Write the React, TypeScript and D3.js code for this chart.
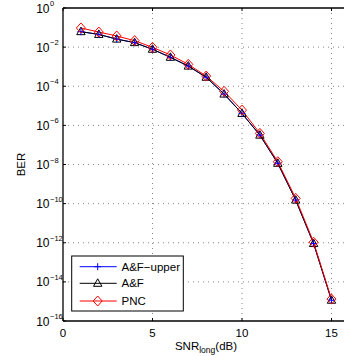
import React from "react";
import * as d3 from "d3";

const snr = [1, 2, 3, 4, 5, 6, 7, 8, 9, 10, 11, 12, 13, 14, 15];
const berAFUpperLog = [-1.21, -1.35, -1.59, -1.77, -2.11, -2.52, -2.97, -3.54, -4.4, -5.39, -6.5, -7.94, -9.82, -12.04, -14.94];
const berAFLog = [-1.21, -1.35, -1.59, -1.77, -2.11, -2.52, -2.97, -3.54, -4.4, -5.39, -6.5, -7.94, -9.82, -12.04, -14.94];
const berPNCLog = [-1.02, -1.23, -1.43, -1.67, -2.01, -2.4, -2.88, -3.48, -4.26, -5.22, -6.41, -7.86, -9.73, -11.97, -14.88];
const xTicks = [0, 5, 10, 15];
const yTickExps = [0, -2, -4, -6, -8, -10, -12, -14, -16];
const seriesNames = ["A&F\u2212upper", "A&F", "PNC"];

const W = 344, H = 356;
const L = 63, R = 349.4, T = 8, B = 321;
const FONT = "'Liberation Sans', Arial, Helvetica, sans-serif";

export default function App() {
  const x = d3.scaleLinear().domain([0, 16]).range([L, R]);
  const y = d3.scaleLog().domain([1, 1e-16]).range([T, B]);
  const line = d3.line<[number, number]>().x(d => x(d[0])).y(d => y(d[1]));
  const mk = (logs: number[]) => snr.map((s, i) => [s, Math.pow(10, logs[i])] as [number, number]);
  const dUp = mk(berAFUpperLog), dAF = mk(berAFLog), dPNC = mk(berPNCLog);

  const plus = (cx: number, cy: number, k: string) => (
    <path key={k} d={`M${cx - 3.5},${cy}H${cx + 3.5}M${cx},${cy - 3.5}V${cy + 3.5}`} stroke="#0000ff" strokeWidth={1} fill="none" />
  );
  const tri = (cx: number, cy: number, k: string) => (
    <path key={k} d={`M${cx},${cy - 4.5}L${cx + 4.2},${cy + 3}L${cx - 4.2},${cy + 3}Z`} stroke="#000" strokeWidth={1} fill="none" />
  );
  const dia = (cx: number, cy: number, k: string) => (
    <path key={k} d={`M${cx},${cy - 5}L${cx + 4.5},${cy}L${cx},${cy + 5}L${cx - 4.5},${cy}Z`} stroke="#ff0000" strokeWidth={1} fill="none" />
  );

  const legX = 71.7, legY = 256, legW = 111.6, legH = 55;
  const rows = [266.7, 283.3, 301];
  const colors = ["#0000ff", "#000000", "#ff0000"];
  const markers = [plus, tri, dia];

  return (
    <svg width={W} height={H} style={{ position: "absolute", left: 0, top: 0, background: "#fff" }} fontFamily={FONT}>
      <rect x={0} y={0} width={W} height={H} fill="#fff" />
      {/* grid */}
      {xTicks.filter(t => t > 0).map(t => (
        <line key={"gx" + t} x1={x(t)} x2={x(t)} y1={T} y2={B} stroke="#666" strokeWidth={0.8} strokeDasharray="1,4" />
      ))}
      {yTickExps.filter(e => e < 0 && e > -16).map(e => (
        <line key={"gy" + e} x1={L} x2={R} y1={y(Math.pow(10, e))} y2={y(Math.pow(10, e))} stroke="#666" strokeWidth={0.8} strokeDasharray="1,4" />
      ))}
      {/* ticks */}
      {xTicks.map(t => (
        <g key={"tx" + t}>
          <line x1={x(t)} x2={x(t)} y1={B} y2={B - 3} stroke="#000" />
          <line x1={x(t)} x2={x(t)} y1={T} y2={T + 3} stroke="#000" />
        </g>
      ))}
      {yTickExps.map(e => (
        <line key={"ty" + e} x1={L} x2={L + 3} y1={y(Math.pow(10, e))} y2={y(Math.pow(10, e))} stroke="#000" />
      ))}
      {/* lines */}
      <path d={line(dUp) || ""} stroke="#0000ff" strokeWidth={1} fill="none" />
      <path d={line(dAF) || ""} stroke="#000" strokeWidth={1} fill="none" />
      <path d={line(dPNC) || ""} stroke="#ff0000" strokeWidth={1} fill="none" />
      {dAF.map((d, i) => tri(x(d[0]), y(d[1]), "t" + i))}
      {dUp.map((d, i) => plus(x(d[0]), y(d[1]), "p" + i))}
      {dPNC.map((d, i) => dia(x(d[0]), y(d[1]), "d" + i))}
      {/* axes box */}
      <line x1={L} x2={L} y1={T} y2={B} stroke="#000" strokeWidth={1.3} />
      <line x1={L} x2={R} y1={B} y2={B} stroke="#000" strokeWidth={1.3} />
      <line x1={L} x2={R} y1={T} y2={T} stroke="#000" strokeWidth={1.3} />
      <line x1={R} x2={R} y1={T} y2={B} stroke="#000" strokeWidth={1.3} />
      {/* x tick labels */}
      {xTicks.map(t => (
        <text key={"lx" + t} x={x(t)} y={336.5} fontSize={11.5} textAnchor="middle" fill="#000">{t}</text>
      ))}
      {/* y tick labels */}
      {yTickExps.map(e => {
        const yy = y(Math.pow(10, e));
        return (
          <g key={"ly" + e}>
            <text x={49.5} y={yy + 4.5} fontSize={12} textAnchor="end" fill="#000">10</text>
            <text x={50} y={yy - 2} fontSize={7.5} textAnchor="start" fill="#000">{e === 0 ? "0" : "\u2212" + Math.abs(e)}</text>
          </g>
        );
      })}
      {/* axis labels */}
      <text x={206} y={350} fontSize={11.5} textAnchor="middle" fill="#000">
        SNR<tspan fontSize={8.5} dy={3}>long</tspan><tspan dy={-3}>(dB)</tspan>
      </text>
      <text transform={`translate(25,${(T + B) / 2}) rotate(-90)`} fontSize={11.5} textAnchor="middle" fill="#000">BER</text>
      {/* legend */}
      <rect x={legX} y={legY} width={legW} height={legH} fill="#fff" stroke="#000" strokeWidth={1} />
      {seriesNames.map((n, i) => (
        <g key={"lg" + i}>
          <line x1={79.7} x2={116.7} y1={rows[i]} y2={rows[i]} stroke={colors[i]} strokeWidth={1} />
          {markers[i](97.7, rows[i], "lm" + i)}
          <text x={121.5} y={rows[i] + 4} fontSize={11.5} fill="#000">{n}</text>
        </g>
      ))}
    </svg>
  );
}
